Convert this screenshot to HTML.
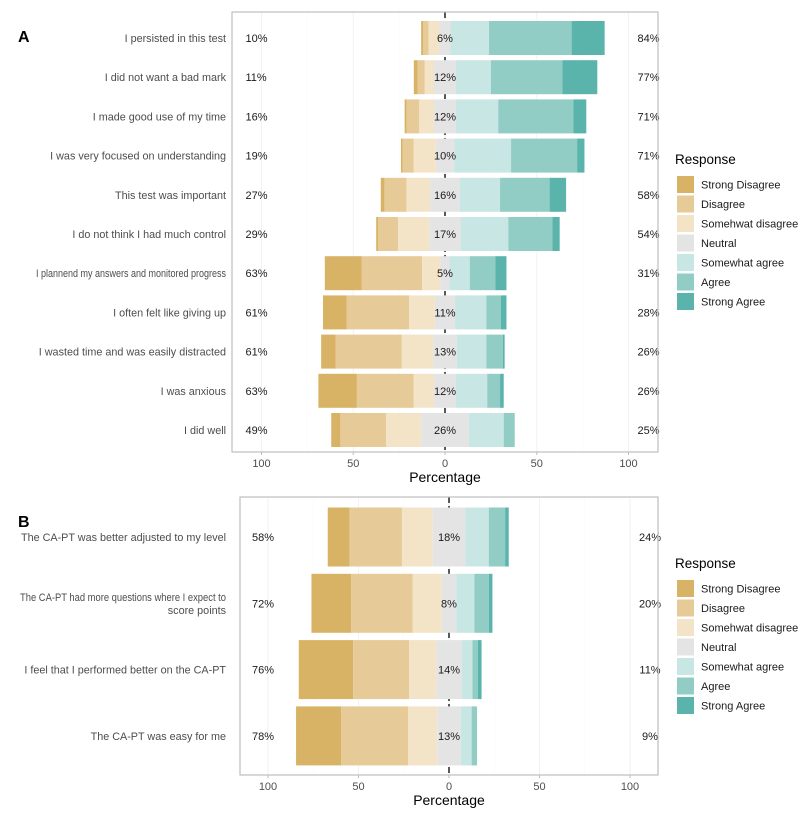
<!DOCTYPE html>
<html><head><meta charset="utf-8"><style>
body{margin:0;background:#fff;font-family:"Liberation Sans",sans-serif;}
svg text{font-family:"Liberation Sans",sans-serif;}
</style></head><body>
<svg id="chart" width="800" height="824" xmlns="http://www.w3.org/2000/svg"></svg>
<script>
const responses=["Strong Disagree","Disagree","Somehwat disagree","Neutral","Somewhat agree","Agree","Strong Agree"];
const colors=["#d8b365","#e6cb98","#f3e4c8","#e4e4e4","#c8e6e3","#92cdc5","#5ab4ac"];
const itemsA=["I persisted in this test","I did not want a bad mark","I made good use of my time","I was very focused on understanding","This test was important","I do not think I had much control","I plannend my answers and monitored progress","I often felt like giving up","I wasted time and was easily distracted","I was anxious","I did well"];
const valuesA=[[1,3,6,6,21,45,18],[2,4,5,12,19,39,19],[1,7,8,12,23,41,7],[1,6,12,10,31,36,4],[2,12,13,16,22,27,9],[1,11,17,17,26,24,4],[20,33,10,5,11,14,6],[13,34,14,11,17,8,3],[8,36,17,13,16,9,1],[21,31,11,12,17,7,2],[5,25,19,26,19,6,0]];
const itemsB=["The CA-PT was better adjusted to my level","The CA-PT had more questions where I expect to|score points","I feel that I performed better on the CA-PT","The CA-PT was easy for me"];
const valuesB=[[12,29,17,18,13,9,2],[22,34,16,8,10,8,2],[30,31,15,14,6,3,2],[25,37,16,13,6,3,0]];
const ticks=[-100,-50,0,50,100];

const svg=document.getElementById('chart');
const NS="http://www.w3.org/2000/svg";
function el(t,a,p){const e=document.createElementNS(NS,t);for(const k in a)e.setAttribute(k,a[k]);(p||svg).appendChild(e);return e;}

function panel(letter,items,values,box,zero,scale,rowTop,rowStep,barH,legendY,maxW){
  const g=el('g',{});
  
  
  const x=v=>zero+v*scale;
  const lt=el('text',{x:18,y:box.y+30,'font-size':16,'font-weight':'bold',fill:'#000'},g);lt.textContent=letter;
  
  
  ticks.forEach(t=>{el('line',{x1:x(t),x2:x(t),y1:box.y,y2:box.y+box.h,stroke:'#f2f2f2','stroke-width':1},g);});
  ticks.slice(0,4).forEach(t=>{el('line',{x1:x(t+25),x2:x(t+25),y1:box.y,y2:box.y+box.h,stroke:'#f7f7f7','stroke-width':0.5},g);});
  el('line',{x1:zero,x2:zero,y1:box.y,y2:box.y+box.h,stroke:'#222','stroke-width':1.5,'stroke-dasharray':'6,3'},g);
  items.forEach((it,i)=>{
    const v=values[i];const cy=rowTop+i*rowStep;
    let start=-(v[0]+v[1]+v[2]+v[3]/2);
    v.forEach((s,j)=>{
      if(s<=0)return;
      const r=el('rect',{x:x(start),y:cy-barH/2,width:s*scale,height:barH,fill:colors[j]},g);
      
      
      start+=s;
    });
    const lines=it.split('|');
    lines.forEach((ln,k)=>{
      const t=el('text',{x:226,y:cy+4+(k-(lines.length-1)/2)*13,'font-size':10.8,fill:'#4d4d4d','text-anchor':'end'},g);t.textContent=ln;
      
      
      try{const w=t.getComputedTextLength();if(w>maxW){t.setAttribute('textLength',maxW);t.setAttribute('lengthAdjust','spacingAndGlyphs');}}catch(e){}
    });
    const left=v[0]+v[1]+v[2],right=v[4]+v[5]+v[6];
    const tl=el('text',{x:x(-100)-16,y:cy+4,'font-size':11,fill:'#1a1a1a'},g);tl.textContent=left+'%';
    
    
    const tm=el('text',{x:zero,y:cy+4,'font-size':11,fill:'#1a1a1a','text-anchor':'middle'},g);tm.textContent=v[3]+'%';
    
    
    const tr=el('text',{x:x(100)+20,y:cy+4,'font-size':11,fill:'#1a1a1a','text-anchor':'middle'},g);tr.textContent=right+'%';
    
    
  });
  el('rect',{x:box.x,y:box.y,width:box.w,height:box.h,fill:'none',stroke:'#bdbdbd','stroke-width':1.2},g);
  ticks.forEach(t=>{
    el('line',{x1:x(t),x2:x(t),y1:box.y+box.h,y2:box.y+box.h+3,stroke:'#bdbdbd'},g);
    const tt=el('text',{x:x(t),y:box.y+box.h+15,'font-size':11,fill:'#4d4d4d','text-anchor':'middle'},g);tt.textContent=Math.abs(t);
    
    
  });
  const xt=el('text',{x:zero,y:box.y+box.h+30,'font-size':14,fill:'#000','text-anchor':'middle'},g);xt.textContent='Percentage';
  
  
  const lg=el('g',{},g);
  
  
  const ttl=el('text',{x:675,y:legendY-12,'font-size':13.5,fill:'#000'},lg);ttl.textContent='Response';
  responses.forEach((r,j)=>{
    const sw=el('rect',{x:677,y:legendY+j*19.5,width:17,height:17,fill:colors[j]},lg);
    
    
    const tx=el('text',{x:701,y:legendY+j*19.5+12.5,'font-size':11,fill:'#1a1a1a'},lg);tx.textContent=r;
    
    
  });
}
panel('A',itemsA,valuesA,{x:232,y:12,w:426,h:440},445,1.835,38,39.2,34,176,190);
panel('B',itemsB,valuesB,{x:240,y:497,w:418,h:278},449,1.81,537,66.3,59,580,206);
</script>
</body></html>
